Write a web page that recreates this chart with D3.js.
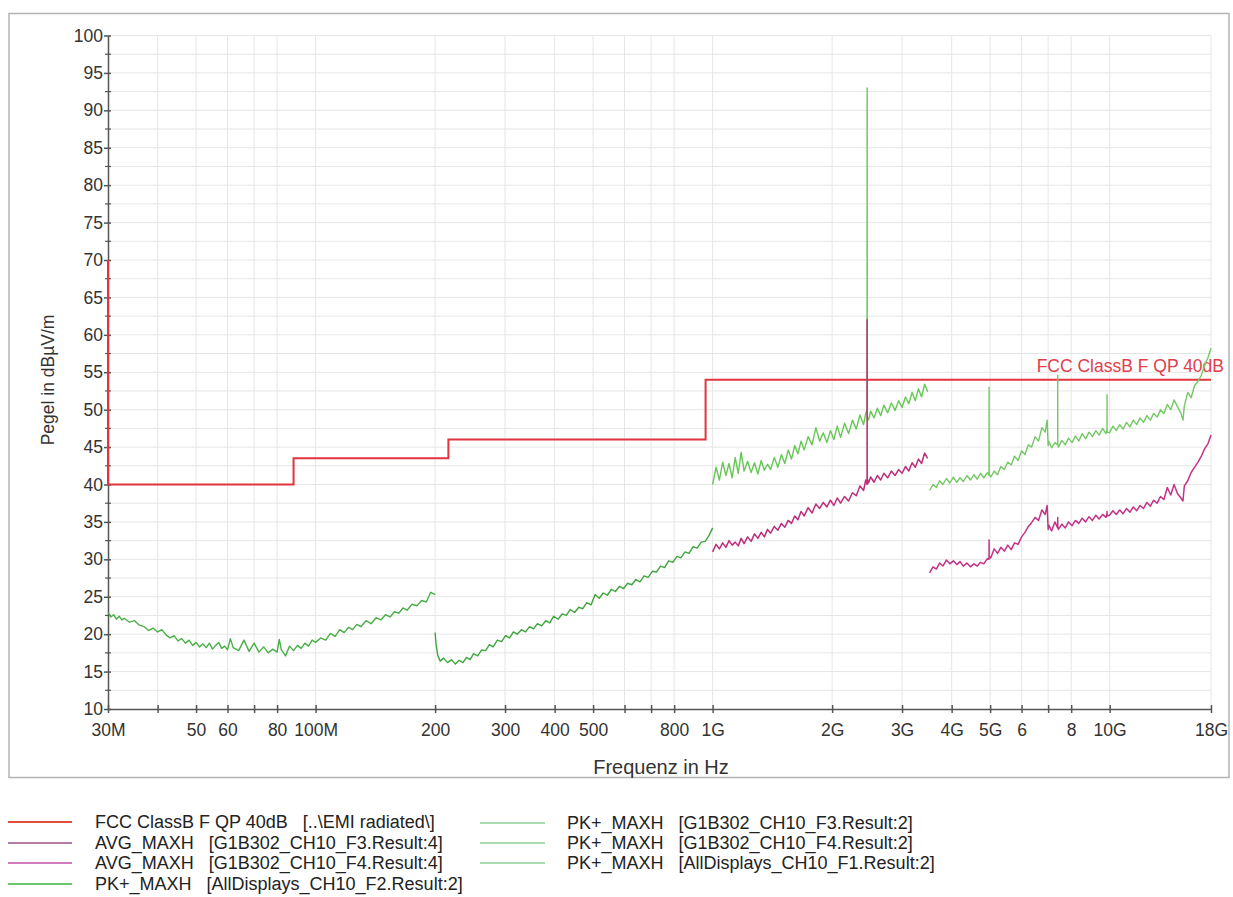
<!DOCTYPE html>
<html>
<head>
<meta charset="utf-8">
<script src="https://cdn.jsdelivr.net/npm/d3@7"></script>
<style>
  html, body { margin: 0; padding: 0; background: #fff; }
  svg { display: block; font-family: Arial, "Liberation Sans", sans-serif; }
  text { white-space: pre; }
</style>
</head>
<body>
<svg id="chart" width="1233" height="897"></svg>
<script>
// ---------------- DATA (frequency in MHz, level in dBµV/m) ----------------
const xTickValues = [30,40,50,60,70,80,100,200,300,400,500,600,700,800,1000,2000,3000,4000,5000,6000,7000,8000,10000,18000];
const xTickLabels = {30:"30M",50:"50",60:"60",80:"80",100:"100M",200:"200",300:"300",400:"400",500:"500",800:"800",1000:"1G",2000:"2G",3000:"3G",4000:"4G",5000:"5G",6000:"6",8000:"8",10000:"10G",18000:"18G"};
const yMajorTicks = [10,15,20,25,30,35,40,45,50,55,60,65,70,75,80,85,90,95,100];
const yMinorTicks = [12.5,17.5,22.5,27.5,32.5,37.5,42.5,47.5,52.5,57.5,62.5,67.5,72.5,77.5,82.5,87.5,92.5,97.5];

const limitFCC = [[30,70],[30,40],[88,40],[88,43.5],[216,43.5],[216,46],[960,46],[960,54],[18000,54]];

const pkF1 = [[30,22.9],[30.5,22.3],[31,22.6],[31.5,22.0],[32,22.4],[32.5,21.9],[33,22.1],[34,21.6],[35,21.8],[36,21.2],[37,21.0],[38,20.5],[39,20.8],[40,20.3],[41,20.6],[42,19.9],[43,19.5],[44,19.8],[45,19.1],[46,19.4],[47,18.8],[48,19.2],[49,18.5],[50,18.9],[51,18.3],[52,18.7],[53,18.2],[54,18.8],[55,18.0],[56,18.5],[57,18.9],[58,18.1],[59,18.4],[60,17.9],[61,19.4],[62,18.2],[64,17.8],[66,19.2],[68,17.7],[70,18.8],[72,17.6],[74,18.3],[76,17.5],[78,18.0],[80,17.6],[81,19.3],[82,17.9],[84,17.1],[86,18.4],[88,17.8],[90,18.5],[92,18.1],[94,18.8],[96,18.4],[98,19.2],[100,18.9],[103,19.5],[106,19.2],[109,20.1],[112,19.7],[115,20.6],[118,20.2],[121,20.9],[124,20.6],[127,21.3],[130,21.0],[134,21.8],[138,21.4],[142,22.2],[146,21.9],[150,22.6],[154,22.3],[158,23.0],[162,22.8],[166,23.5],[170,23.2],[175,24.0],[180,23.8],[185,24.5],[190,24.3],[195,25.6],[200,25.3]];

const pkF2 = [[200,20.2],[201,18.8],[203,17.2],[206,16.4],[210,16.8],[215,16.2],[220,16.6],[225,16.0],[230,16.5],[235,16.2],[240,16.9],[245,16.6],[250,17.4],[256,17.1],[262,17.9],[268,17.8],[274,18.6],[280,18.3],[287,19.2],[294,19.0],[301,19.8],[308,19.5],[315,20.3],[322,20.0],[330,20.6],[338,20.3],[346,21.0],[354,20.7],[362,21.4],[371,21.1],[380,21.8],[389,21.5],[398,22.4],[408,22.0],[418,22.7],[428,22.5],[438,23.3],[449,22.9],[460,23.6],[471,23.4],[482,24.2],[494,23.9],[506,25.3],[518,24.8],[530,25.5],[543,25.2],[556,26.0],[569,25.7],[583,26.4],[597,26.1],[611,26.8],[626,26.6],[641,27.3],[656,27.0],[672,27.8],[688,27.6],[705,28.4],[722,28.3],[739,29.1],[757,28.9],[775,29.8],[794,29.6],[813,30.4],[832,30.2],[852,31.0],[872,30.8],[893,31.7],[914,31.5],[936,32.3],[958,32.4],[980,33.2],[1000,34.2]];

const pkF3 = [[1000,40.0],[1020,42.3],[1040,40.6],[1060,43.0],[1080,41.2],[1100,42.8],[1120,40.9],[1140,43.6],[1160,41.5],[1180,44.3],[1200,41.8],[1225,43.1],[1250,41.6],[1275,42.9],[1300,41.4],[1325,43.2],[1350,41.9],[1375,42.7],[1400,42.0],[1430,43.6],[1460,42.3],[1490,44.0],[1520,42.8],[1550,44.6],[1580,43.4],[1610,45.2],[1640,44.1],[1670,45.8],[1700,44.6],[1740,46.4],[1780,45.3],[1820,47.6],[1860,45.8],[1900,46.9],[1940,45.6],[1980,47.2],[2020,46.0],[2060,47.8],[2100,46.3],[2150,48.2],[2200,46.8],[2250,48.6],[2300,47.4],[2350,49.3],[2400,48.0],[2430,49.5],[2449,50.0],[2450,93.0],[2451,49.0],[2470,48.6],[2500,49.8],[2550,48.9],[2600,50.2],[2650,49.2],[2700,50.6],[2760,49.6],[2820,50.9],[2880,49.9],[2940,51.2],[3000,50.3],[3060,51.7],[3120,50.8],[3180,52.3],[3240,51.2],[3300,52.8],[3360,51.7],[3420,53.4],[3480,52.4]];

const avgF3 = [[1000,31.0],[1020,32.0],[1040,31.4],[1060,32.2],[1080,31.6],[1100,32.5],[1120,31.9],[1140,32.3],[1160,31.8],[1180,32.8],[1200,32.1],[1225,33.0],[1250,32.4],[1275,33.4],[1300,32.8],[1325,33.6],[1350,33.0],[1375,34.0],[1400,33.5],[1430,34.4],[1460,33.9],[1490,34.8],[1520,34.3],[1550,35.2],[1580,34.8],[1610,35.8],[1640,35.3],[1670,36.4],[1700,35.8],[1740,36.9],[1780,36.2],[1820,37.4],[1860,36.8],[1900,37.6],[1940,37.0],[1980,37.9],[2020,37.2],[2060,38.2],[2100,37.5],[2150,38.4],[2200,37.8],[2250,38.9],[2300,38.5],[2350,39.8],[2400,39.2],[2430,40.6],[2449,40.0],[2450,62.0],[2451,40.8],[2470,40.2],[2500,41.0],[2550,40.3],[2600,41.2],[2650,40.6],[2700,41.5],[2760,40.9],[2820,41.8],[2880,41.2],[2940,42.0],[3000,41.5],[3060,42.4],[3120,41.8],[3180,42.9],[3240,42.3],[3300,43.4],[3360,42.8],[3420,44.2],[3480,43.5]];

const pkF4 = [[3520,39.2],[3590,40.0],[3660,39.6],[3730,40.5],[3800,40.0],[3880,40.8],[3960,40.2],[4040,41.0],[4120,40.3],[4200,40.9],[4280,40.4],[4370,41.2],[4460,40.6],[4550,41.3],[4640,40.7],[4730,41.5],[4820,40.9],[4920,41.6],[4968,41.2],[4970,53.0],[4972,41.4],[5020,41.0],[5120,41.8],[5220,41.3],[5320,42.4],[5430,42.0],[5540,43.0],[5650,42.6],[5760,43.8],[5880,43.2],[6000,44.5],[6120,44.0],[6240,45.3],[6360,45.0],[6490,46.4],[6620,45.8],[6750,47.6],[6880,47.0],[6960,48.6],[7000,45.2],[7020,45.8],[7140,44.9],[7280,45.6],[7398,45.3],[7400,54.6],[7402,45.4],[7430,45.0],[7580,45.9],[7730,45.3],[7880,46.2],[8040,45.6],[8200,46.5],[8360,45.8],[8530,46.8],[8700,46.1],[8870,47.0],[9050,46.4],[9230,47.2],[9410,46.6],[9600,47.5],[9790,46.8],[9848,47.3],[9850,52.0],[9852,47.0],[9990,46.9],[10190,47.8],[10390,47.2],[10600,48.0],[10810,47.4],[11030,48.3],[11250,47.7],[11470,48.6],[11700,48.0],[11930,48.9],[12170,48.3],[12410,49.2],[12660,48.6],[12910,49.5],[13170,49.0],[13430,50.0],[13700,49.5],[13970,50.7],[14250,50.0],[14530,51.3],[14820,50.4],[15120,49.5],[15300,48.6],[15420,50.5],[15730,52.3],[16040,51.6],[16360,53.2],[16690,53.8],[17020,54.6],[17360,56.0],[17700,57.0],[18000,58.2]];

const avgF4 = [[3520,28.2],[3590,29.0],[3660,28.7],[3730,29.5],[3800,29.1],[3880,29.9],[3960,29.4],[4040,29.8],[4120,29.3],[4200,29.7],[4280,29.1],[4370,29.5],[4460,29.0],[4550,29.4],[4640,29.1],[4730,29.6],[4820,29.4],[4920,30.1],[4968,30.0],[4970,32.6],[4972,30.4],[5020,30.2],[5120,31.4],[5220,30.8],[5320,31.6],[5430,31.1],[5540,31.9],[5650,31.3],[5760,32.2],[5880,32.0],[6000,33.0],[6120,33.6],[6240,34.4],[6360,34.9],[6490,35.6],[6620,35.2],[6750,36.6],[6880,36.0],[6960,37.2],[7000,34.0],[7020,34.6],[7140,33.8],[7280,35.0],[7398,34.2],[7400,35.6],[7402,34.4],[7430,34.0],[7580,34.7],[7730,34.2],[7880,35.0],[8040,34.5],[8200,35.2],[8360,34.8],[8530,35.5],[8700,35.0],[8870,35.7],[9050,35.2],[9230,35.9],[9410,35.4],[9600,36.0],[9790,35.6],[9848,36.1],[9850,36.4],[9852,35.8],[9990,35.9],[10190,36.5],[10390,36.0],[10600,36.6],[10810,36.1],[11030,36.8],[11250,36.3],[11470,37.0],[11700,36.5],[11930,37.2],[12170,36.8],[12410,37.6],[12660,37.1],[12910,37.9],[13170,37.5],[13430,38.4],[13700,38.0],[13970,39.6],[14250,38.6],[14530,40.0],[14820,38.8],[15120,38.2],[15300,37.8],[15420,39.8],[15730,40.5],[16040,41.6],[16360,42.3],[16690,43.0],[17020,43.8],[17360,44.8],[17700,45.5],[18000,46.6]];

const legendLabels = [
  "FCC ClassB F QP 40dB   [..\\EMI radiated\\]",
  "AVG_MAXH   [G1B302_CH10_F3.Result:4]",
  "AVG_MAXH   [G1B302_CH10_F4.Result:4]",
  "PK+_MAXH   [AllDisplays_CH10_F2.Result:2]",
  "PK+_MAXH   [G1B302_CH10_F3.Result:2]",
  "PK+_MAXH   [G1B302_CH10_F4.Result:2]",
  "PK+_MAXH   [AllDisplays_CH10_F1.Result:2]"
];
const limitLabel = "FCC ClassB F QP 40dB";
const xTitle = "Frequenz in Hz";
const yTitle = "Pegel in dBµV/m";

// ---------------- DRAWING ----------------
const svg = d3.select("#chart");
const x = d3.scaleLog().domain([30, 18000]).range([108, 1211]);
const y = d3.scaleLinear().domain([10, 100]).range([709, 35.5]);
const FONT = "Arial, 'Liberation Sans', sans-serif";

// outer frame
svg.append("rect").attr("x", 9).attr("y", 13.5).attr("width", 1220).attr("height", 764)
  .attr("fill", "none").attr("stroke", "#b4b4b4").attr("stroke-width", 1.5);

// grid
const grid = svg.append("g").attr("stroke", "#e6e6e6").attr("stroke-width", 1);
grid.selectAll("line.h").data(yMajorTicks.concat(yMinorTicks).filter(v => v > 10))
  .join("line").attr("x1", x(30)).attr("x2", x(18000))
  .attr("y1", d => y(d)).attr("y2", d => y(d));
grid.selectAll("line.v").data(xTickValues.filter(v => v > 30))
  .join("line").attr("y1", y(10)).attr("y2", y(100))
  .attr("x1", d => x(d)).attr("x2", d => x(d));

// x axis
const xAxis = svg.append("g").attr("transform", `translate(0,${y(10)})`)
  .call(d3.axisBottom(x).tickValues(xTickValues).tickFormat(d => xTickLabels[d] || "").tickSizeOuter(0));
xAxis.select(".domain").attr("stroke", "#555").attr("stroke-width", 1.5);
xAxis.selectAll(".tick line").attr("y1", -4).attr("y2", 4).attr("stroke", "#555").attr("stroke-width", 1.5);
xAxis.selectAll(".tick text").attr("y", 15).attr("font-size", 17.5).attr("fill", "#333").attr("font-family", FONT);

// y axis
const yAxis = svg.append("g").attr("transform", `translate(${x(30)},0)`)
  .call(d3.axisLeft(y).tickValues(yMajorTicks).tickFormat(d3.format("d")).tickSizeOuter(0));
yAxis.select(".domain").attr("stroke", "#555").attr("stroke-width", 1.5);
yAxis.selectAll(".tick line").attr("x1", -4).attr("x2", 3).attr("stroke", "#555").attr("stroke-width", 1.5);
yAxis.selectAll(".tick text").attr("x", -5).attr("font-size", 17.5).attr("fill", "#333").attr("font-family", FONT);
svg.append("g").selectAll("line").data(yMinorTicks).join("line")
  .attr("x1", x(30) - 3).attr("x2", x(30) + 3)
  .attr("y1", d => y(d)).attr("y2", d => y(d)).attr("stroke", "#555").attr("stroke-width", 1.2);

// titles
svg.append("text").attr("x", 661).attr("y", 774).attr("text-anchor", "middle")
  .attr("font-size", 20).attr("fill", "#333").text(xTitle);
svg.append("text").attr("transform", "translate(54,380) rotate(-90)").attr("text-anchor", "middle")
  .attr("font-size", 17.5).attr("fill", "#333").text(yTitle);

const line = d3.line().x(d => x(d[0])).y(d => y(d[1]));

// limit line
svg.append("path").datum(limitFCC).attr("d", line)
  .attr("fill", "none").attr("stroke", "#e2343c").attr("stroke-width", 2);
svg.append("text").attr("x", 1224).attr("y", 372).attr("text-anchor", "end")
  .attr("font-size", 17.5).attr("fill", "#e0404c").text(limitLabel);

// traces
const traces = [
  {data: pkF1, color: "#48b046", w: 1.4},
  {data: pkF2, color: "#3fa63d", w: 1.4},
  {data: pkF3, color: "#66c756", w: 1.4},
  {data: pkF4, color: "#74c964", w: 1.4},
  {data: avgF3, color: "#bd2f7c", w: 1.5},
  {data: avgF4, color: "#c23388", w: 1.5}
];
svg.append("g").selectAll("path").data(traces).join("path")
  .attr("d", d => line(d.data)).attr("fill", "none")
  .attr("stroke", d => d.color).attr("stroke-width", d => d.w).attr("stroke-linejoin", "round");

// legend
const legendColors = ["#e0503c", "#b67aa6", "#d47cc2", "#6cc46c", "#a8dcae", "#a8dcae", "#a8dcae"];
const legendPos = [
  {lx: 8, len: 64, tx: 95, y: 822}, {lx: 8, len: 64, tx: 95, y: 843}, {lx: 8, len: 64, tx: 95, y: 863}, {lx: 8, len: 64, tx: 95, y: 884},
  {lx: 480, len: 65, tx: 567, y: 823}, {lx: 480, len: 65, tx: 567, y: 843}, {lx: 480, len: 65, tx: 567, y: 863}
];
const leg = svg.append("g").selectAll("g").data(legendLabels).join("g");
leg.append("line").attr("x1", (d, i) => legendPos[i].lx).attr("x2", (d, i) => legendPos[i].lx + legendPos[i].len)
  .attr("y1", (d, i) => legendPos[i].y).attr("y2", (d, i) => legendPos[i].y)
  .attr("stroke", (d, i) => legendColors[i]).attr("stroke-width", 2);
leg.append("text").attr("x", (d, i) => legendPos[i].tx).attr("y", (d, i) => legendPos[i].y + 6)
  .attr("font-size", 18).attr("fill", "#222").text(d => d);
</script>
</body>
</html>
